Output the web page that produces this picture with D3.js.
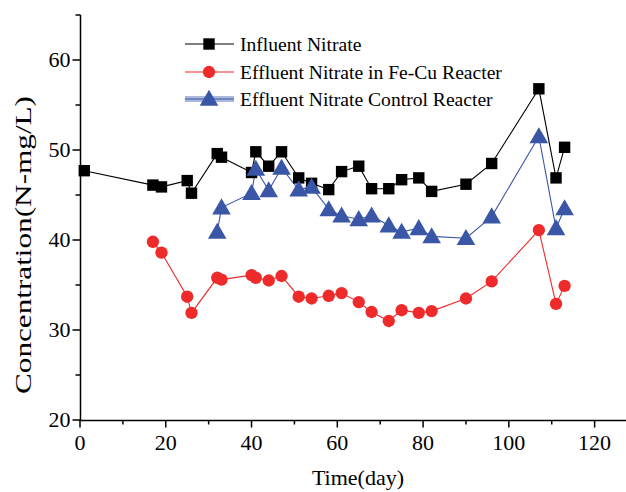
<!DOCTYPE html>
<html><head><meta charset="utf-8">
<script src="https://cdn.jsdelivr.net/npm/d3@7"></script>
<style>body{margin:0;background:#fff}svg{display:block}text{font-family:"Liberation Serif","Times New Roman",serif;fill:#000}</style>
</head><body><svg id="c" width="626" height="492"></svg>
<script>
const days = [1,17,19,25,26,32,33,40,41,44,47,51,54,58,61,65,68,72,75,79,82,90,96,107,111,113];
const influent = [47.7,46.1,45.9,46.6,45.2,49.6,49.2,47.5,49.8,48.2,49.8,46.9,46.3,45.6,47.6,48.2,45.7,45.7,46.7,46.9,45.4,46.2,48.5,56.8,46.9,50.3];
const feCuDays = [17,19,25,26,32,33,40,41,44,47,51,54,58,61,65,68,72,75,79,82,90,96,107,111,113];
const feCu = [39.8,38.6,33.7,31.9,35.8,35.6,36.1,35.8,35.5,36.0,33.7,33.5,33.8,34.1,33.1,32.0,31.0,32.2,31.9,32.1,33.5,35.4,41.1,32.9,34.9];
const controlDays = [32,33,40,41,44,47,51,54,58,61,65,68,72,75,79,82,90,96,107,111,113];
const control = [40.9,43.6,45.2,47.9,45.5,48.0,45.6,45.9,43.4,42.7,42.3,42.7,41.6,40.9,41.3,40.4,40.2,42.6,51.5,41.3,43.5];
const xTicks = [0,20,40,60,80,100,120];
const yTicks = [20,30,40,50,60];
const seriesNames = ["Influent Nitrate","Effluent Nitrate in Fe-Cu Reacter","Effluent Nitrate Control Reacter"];
const colors = ["#000000","#ee2a2a","#3a56a6"];
const shapes = [d3.symbolSquare, d3.symbolCircle, d3.symbolTriangle];
const xTitle = "Time(day)";
const yTitle = "Concentration(N-mg/L)";

const svg = d3.select("#c");
const x = d3.scaleLinear().domain([0,130]).range([80,637.5]);
const y = d3.scaleLinear().domain([20,65]).range([420,15]);

const series = [
  {name:seriesNames[0], d:days.map((t,i)=>[t,influent[i]])},
  {name:seriesNames[1], d:feCuDays.map((t,i)=>[t,feCu[i]])},
  {name:seriesNames[2], d:controlDays.map((t,i)=>[t,control[i]])}
];
const sizes = [130, 120, 150];
const line = d3.line().x(d=>x(d[0])).y(d=>y(d[1]));
series.forEach((s,k)=>{
  svg.append("path").attr("d", line(s.d)).attr("fill","none").attr("stroke",colors[k]).attr("stroke-width",1.1);
});
series.forEach((s,k)=>{
  svg.selectAll(null).data(s.d).enter().append("path")
    .attr("d", d3.symbol().type(shapes[k]).size(sizes[k]))
    .attr("transform", d=>`translate(${x(d[0])},${y(d[1]) + (k===2?1.5:0)})`)
    .attr("fill", colors[k]);
});

// axes
const xAxis = svg.append("g").attr("transform","translate(0,420.5)");
xAxis.append("line").attr("x1",79).attr("x2",626).attr("stroke","#000").attr("stroke-width",1.5);
const xMinor = d3.range(10,130,20);
xAxis.selectAll(null).data(xTicks).enter().append("line")
  .attr("x1",d=>x(d)).attr("x2",d=>x(d)).attr("y1",0).attr("y2",7).attr("stroke","#000").attr("stroke-width",1.5);
xAxis.selectAll(null).data(xMinor).enter().append("line")
  .attr("x1",d=>x(d)).attr("x2",d=>x(d)).attr("y1",0).attr("y2",4).attr("stroke","#000").attr("stroke-width",1.5);
xAxis.selectAll(null).data(xTicks).enter().append("text")
  .attr("x",d=>x(d)).attr("y",29).attr("text-anchor","middle").attr("font-size",22).text(d=>d);

const yAxis = svg.append("g").attr("transform","translate(80.5,0)");
yAxis.append("line").attr("y1",15).attr("y2",421).attr("stroke","#000").attr("stroke-width",1.5);
const yMinor = [25,35,45,55,65];
yAxis.selectAll(null).data(yTicks).enter().append("line")
  .attr("y1",d=>y(d)).attr("y2",d=>y(d)).attr("x1",0).attr("x2",-8).attr("stroke","#000").attr("stroke-width",1.5);
yAxis.selectAll(null).data(yMinor).enter().append("line")
  .attr("y1",d=>y(d)).attr("y2",d=>y(d)).attr("x1",0).attr("x2",-5).attr("stroke","#000").attr("stroke-width",1.5);
yAxis.selectAll(null).data(yTicks).enter().append("text")
  .attr("x",-10).attr("y",d=>y(d)+7).attr("text-anchor","end").attr("font-size",22).text(d=>d);

svg.append("text").attr("x",358).attr("y",485).attr("text-anchor","middle").attr("font-size",22).text(xTitle);
svg.append("text").attr("transform","translate(31,245) rotate(-90)").attr("text-anchor","middle").attr("font-size",23)
  .attr("textLength",298).attr("lengthAdjust","spacingAndGlyphs").text(yTitle);

// legend
const lg = svg.append("g");
const rows = [44,72,99];
lg.append("rect").attr("x",185).attr("y",rows[2]-3).attr("width",49).attr("height",6).attr("fill","#aab8dc");
seriesNames.forEach((n,k)=>{
  lg.append("line").attr("x1",185).attr("x2",234).attr("y1",rows[k]).attr("y2",rows[k]).attr("stroke",colors[k]).attr("stroke-width",1.1);
  lg.append("path").attr("d",d3.symbol().type(shapes[k]).size(sizes[k])).attr("transform",`translate(209,${rows[k]+(k===2?1.5:0)})`).attr("fill",colors[k]);
  lg.append("text").attr("x",240).attr("y",rows[k]+7).attr("font-size",19.6).text(n);
});
</script></body></html>
